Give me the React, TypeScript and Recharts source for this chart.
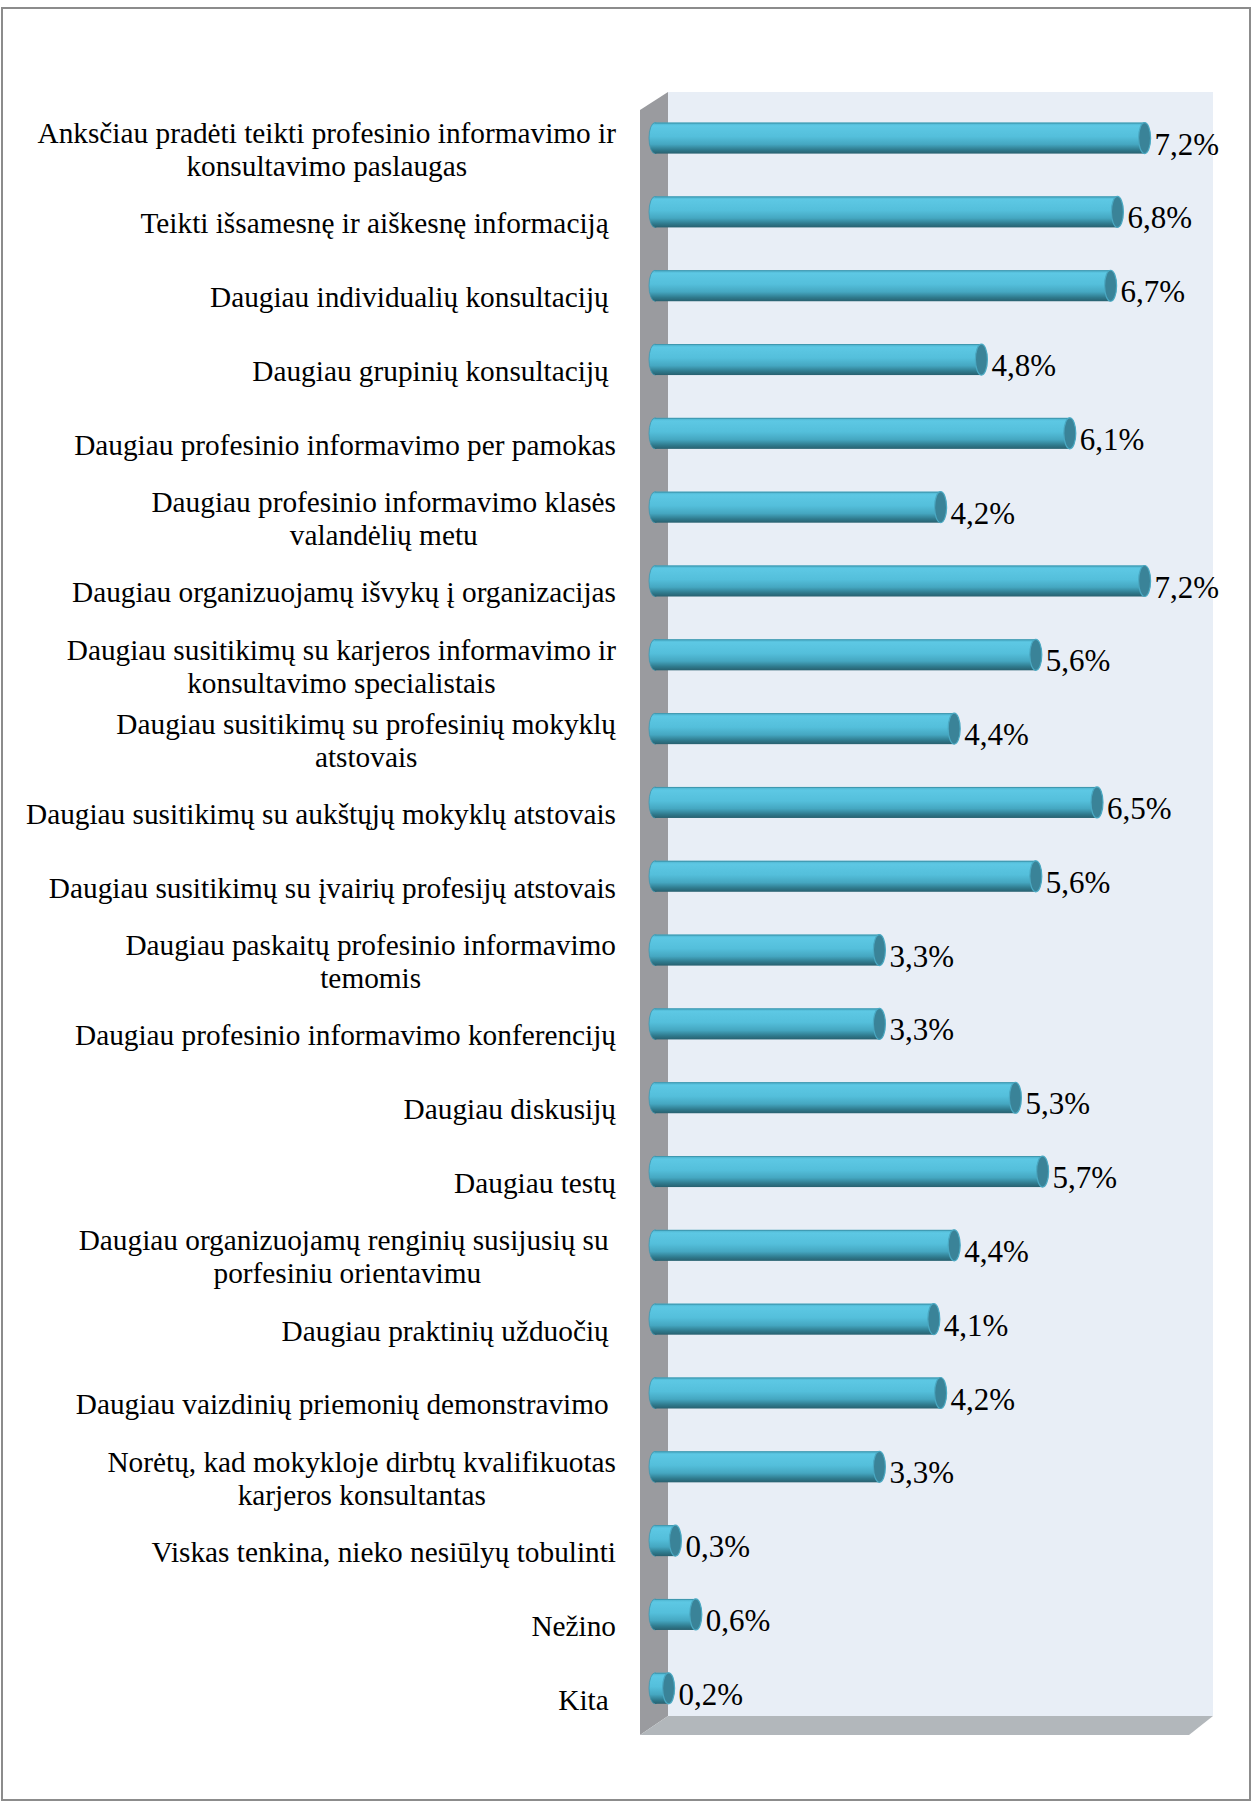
import React from 'react';
import { BarChart, Bar, XAxis, YAxis, LabelList } from 'recharts';

const categories: string[] = [
  'Anksčiau pradėti teikti profesinio informavimo ir\nkonsultavimo paslaugas',
  'Teikti išsamesnę ir aiškesnę informaciją ',
  'Daugiau individualių konsultacijų ',
  'Daugiau grupinių konsultacijų ',
  'Daugiau profesinio informavimo per pamokas',
  'Daugiau profesinio informavimo klasės\nvalandėlių metu',
  'Daugiau organizuojamų išvykų į organizacijas',
  'Daugiau susitikimų su karjeros informavimo ir\nkonsultavimo specialistais',
  'Daugiau susitikimų su profesinių mokyklų\natstovais',
  'Daugiau susitikimų su aukštųjų mokyklų atstovais',
  'Daugiau susitikimų su įvairių profesijų atstovais',
  'Daugiau paskaitų profesinio informavimo\ntemomis',
  'Daugiau profesinio informavimo konferencijų',
  'Daugiau diskusijų',
  'Daugiau testų',
  'Daugiau organizuojamų renginių susijusių su \nporfesiniu orientavimu',
  'Daugiau praktinių užduočių ',
  'Daugiau vaizdinių priemonių demonstravimo ',
  'Norėtų, kad mokykloje dirbtų kvalifikuotas\nkarjeros konsultantas',
  'Viskas tenkina, nieko nesiūlyų tobulinti',
  'Nežino',
  'Kita ',
];

const values: number[] = [7.2, 6.8, 6.7, 4.8, 6.1, 4.2, 7.2, 5.6, 4.4, 6.5, 5.6, 3.3, 3.3, 5.3, 5.7, 4.4, 4.1, 4.2, 3.3, 0.3, 0.6, 0.2];

const xDomain: [number, number] = [0, 8];

const data = categories.map((name, i) => ({ name, value: values[i] }));

const FONT = '"Liberation Serif", "Times New Roman", serif';

let ctx: CanvasRenderingContext2D | null = null;
function measure(t: string, size: number): number {
  if (!ctx) ctx = document.createElement('canvas').getContext('2d');
  if (!ctx) return t.length * size * 0.45;
  ctx.font = `${size}px "Liberation Serif"`;
  return ctx.measureText(t).width;
}

const CategoryTick = (props: any) => {
  const { x, y, payload } = props;
  const lines = String(payload.value).split('\n');
  const fs = 29.3;
  const widths = lines.map((l) => measure(l, fs));
  const block = Math.max(...widths);
  const lh = 33;
  const cy = y + 11;
  return (
    <g>
      {lines.map((l, i) => (
        <text
          key={i}
          x={x - block + (block - widths[i]) / 2}
          y={cy + (i - (lines.length - 1) / 2) * lh}
          dominantBaseline="central"
          textAnchor="start"
          fontSize={fs}
          fontFamily={FONT}
          fill="#000"
        >
          {l.trimEnd()}
        </text>
      ))}
    </g>
  );
};

const Cylinder = (props: any) => {
  const { x, y, width, height } = props;
  if (x == null || y == null) return null;
  const ry = height / 2;
  const rx = 6;
  const cy = y + ry;
  return (
    <g>
      <ellipse cx={x} cy={cy} rx={rx} ry={ry} fill="url(#cylGrad)" stroke="#3f96ad" strokeWidth={0.8} />
      <rect x={x} y={y} width={Math.max(width, 0)} height={height} fill="url(#cylGrad)" />
      <line x1={x} x2={x + width} y1={y + 0.5} y2={y + 0.5} stroke="#3f97ae" strokeWidth={1} />
      <ellipse cx={x + width} cy={cy} rx={rx} ry={ry} fill="#3a8398" stroke="#4aa9c3" strokeWidth={1.2} />
    </g>
  );
};

const ValueLabel = (props: any) => {
  const { x, y, width, height, value } = props;
  const txt = String(value).replace('.', ',') + '%';
  return (
    <text
      x={x + width + 10}
      y={y + height / 2 + 6}
      dominantBaseline="central"
      textAnchor="start"
      fontSize={31}
      fontFamily={FONT}
      fill="#000"
    >
      {txt}
    </text>
  );
};

export default function App() {
  return (
    <div style={{ position: 'absolute', left: 0, top: 0, width: 1257, height: 1802, background: '#fff' }}>
      <svg width={1257} height={1802} style={{ position: 'absolute', left: 0, top: 0 }}>
        <defs>
          <linearGradient id="cylGrad" x1="0" y1="0" x2="0" y2="1">
            <stop offset="0" stopColor="#4bb0cb" />
            <stop offset="0.1" stopColor="#5dc8e4" />
            <stop offset="0.45" stopColor="#54bfdb" />
            <stop offset="0.7" stopColor="#45a7c1" />
            <stop offset="0.88" stopColor="#2f7a8d" />
            <stop offset="1" stopColor="#28606f" />
          </linearGradient>
        </defs>
        <rect x={2} y={8} width={1248} height={1792} fill="none" stroke="#8c8c8c" strokeWidth={2} />
        <rect x={668} y={92} width={545} height={1624} fill="#e8eef6" />
        <polygon points="640,110 668,92 668,1716 640,1735" fill="#9a9b9f" />
        <polygon points="640,1735 668,1716 1213,1716 1189,1735" fill="#b2b7bb" />
      </svg>
      <div style={{ position: 'absolute', left: 0, top: 0 }}>
        <BarChart
          width={1257}
          height={1802}
          data={data}
          layout="vertical"
          margin={{ top: 101.6, right: 58, bottom: 76.4, left: 0 }}
          barCategoryGap={0}
        >
          <XAxis type="number" domain={xDomain} hide />
          <YAxis
            type="category"
            dataKey="name"
            width={655}
            tickLine={false}
            axisLine={false}
            tickSize={0}
            tickMargin={39}
            interval={0}
            tick={<CategoryTick />}
          />
          <Bar dataKey="value" barSize={31} shape={<Cylinder />} isAnimationActive={false}>
            <LabelList dataKey="value" content={<ValueLabel />} />
          </Bar>
        </BarChart>
      </div>
    </div>
  );
}
